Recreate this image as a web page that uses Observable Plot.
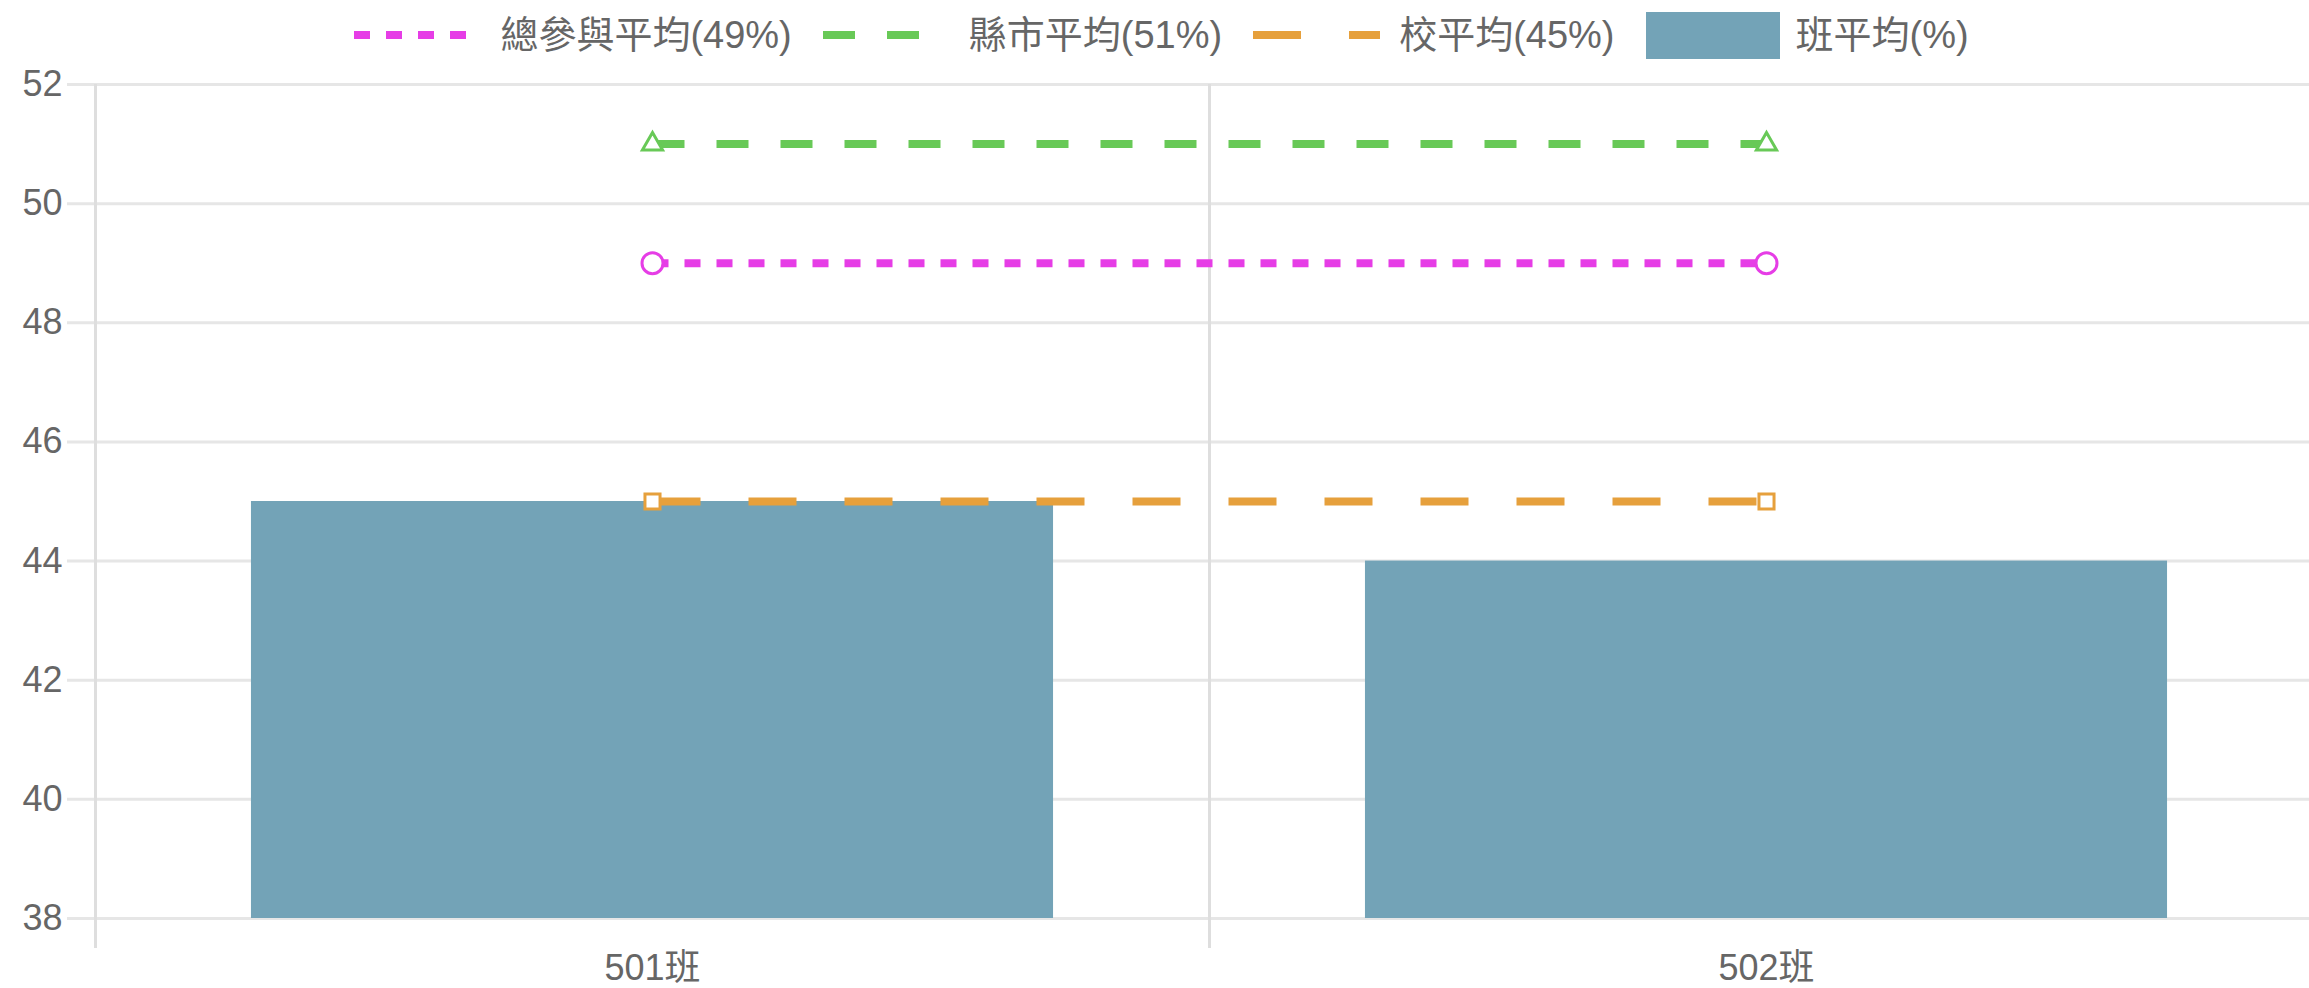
<!DOCTYPE html>
<html>
<head>
<meta charset="utf-8">
<script src="https://cdn.jsdelivr.net/npm/d3@7"></script>
<script src="https://cdn.jsdelivr.net/npm/@observablehq/plot@0.6"></script>
<style>
  html, body { margin: 0; padding: 0; background: #fff; overflow: hidden; }
  #wrap { width: 2323px; font-family: "Liberation Sans", "Noto Sans CJK TC", sans-serif; color: #666; }
  #legend { height: 70px; display: flex; justify-content: center; align-items: center; font-size: 38px; box-sizing: border-box; }
  .item { display: flex; align-items: center; margin-right: 31px; }
  .item:last-child { margin-right: 0; }
  .item svg { display: block; margin-right: 19px; }
  .item span { line-height: 1; white-space: nowrap; }
</style>
</head>
<body>
<div id="wrap">
  <div id="legend"></div>
  <div id="chart"></div>
</div>
<script>
// ---- data ----
const categories = ["501班", "502班"];
const classAvg = [45, 44];          // 班平均(%)
const overallAvg = [49, 49];        // 總參與平均(49%)
const countyAvg = [51, 51];         // 縣市平均(51%)
const schoolAvg = [45, 45];         // 校平均(45%)
const yTicks = [38, 40, 42, 44, 46, 48, 50, 52];
const seriesLabels = ["總參與平均(49%)", "縣市平均(51%)", "校平均(45%)", "班平均(%)"];

// ---- styles ----
const colors = { overall: "#e63de6", county: "#68c957", school: "#e6a03c", cls: "#73a3b7" };
const font = '"Liberation Sans", "Noto Sans CJK TC", sans-serif';
const W = 2323, H = 918, mL = 95, mR = 0, mT = 14, mB = 70;
const step = (W - mL - mR) / categories.length;
const barInset = step * (1 - 0.8 * 0.9) / 2;
const gridColor = "#e6e6e6";
const lineW = 8;

const bars = categories.map((c, i) => ({ cat: c, value: classAvg[i] }));
const mk = (arr) => categories.map((c, i) => ({ cat: c, value: arr[i] }));
const lines = [
  { data: mk(countyAvg), color: colors.county, dash: "32,32", symbol: "triangle", r: 7.5 },
  { data: mk(overallAvg), color: colors.overall, dash: "16,16", symbol: "circle", r: 10.5 },
  { data: mk(schoolAvg), color: colors.school, dash: "48,48", symbol: "square", r: 8.5 }
];

// ---- legend ----
const legend = document.getElementById("legend");
const legendDefs = [
  { label: seriesLabels[0], color: colors.overall, dash: "16,16", type: "line" },
  { label: seriesLabels[1], color: colors.county, dash: "32,32", type: "line" },
  { label: seriesLabels[2], color: colors.school, dash: "48,48", type: "line" },
  { label: seriesLabels[3], color: colors.cls, type: "box" }
];
for (const d of legendDefs) {
  const item = document.createElement("div");
  item.className = "item";
  let sample;
  if (d.type === "line") {
    sample = `<svg width="127" height="12"><line x1="0" x2="127" y1="6" y2="6" stroke="${d.color}" stroke-width="${lineW}" stroke-dasharray="${d.dash}"/></svg>`;
  } else {
    sample = `<svg width="134" height="47" style="margin-right:16px"><rect x="0" y="0" width="134" height="47" fill="${d.color}"/></svg>`;
  }
  item.innerHTML = sample + `<span>${d.label}</span>`;
  legend.appendChild(item);
}

// ---- chart ----
const marks = [
  Plot.ruleY(yTicks, { y: d => d, stroke: gridColor, strokeWidth: 3, insetLeft: -28 }),
  Plot.ruleX(categories, { x: d => d, dx: -step / 2, stroke: "#dedede", strokeWidth: 3, insetBottom: -30 }),
  Plot.ruleX([categories[categories.length - 1]], { x: d => d, dx: step / 2, stroke: "#dedede", strokeWidth: 3, insetBottom: -30 }),
  Plot.barY(bars, { x: "cat", y1: yTicks[0], y2: "value", fill: colors.cls, insetLeft: barInset, insetRight: barInset })
];
for (const l of lines) {
  marks.push(Plot.lineY(l.data, { x: "cat", y: "value", stroke: l.color, strokeWidth: lineW, strokeDasharray: l.dash, strokeLinecap: "butt" }));
}
for (const l of lines) {
  marks.push(Plot.dot(l.data, { x: "cat", y: "value", symbol: l.symbol, r: l.r, stroke: l.color, fill: "white", strokeWidth: 3 }));
}
marks.push(
  Plot.axisY(yTicks, { tickSize: 0, tickPadding: 33, tickFormat: d => String(d), fontSize: 36, fill: "#666", label: null }),
  Plot.axisX({ tickSize: 0, tickPadding: 36, fontSize: 36, fill: "#666", label: null })
);

const chart = Plot.plot({
  width: W, height: H,
  marginLeft: mL, marginRight: mR, marginTop: mT, marginBottom: mB,
  style: { fontFamily: font, fontSize: "36px", color: "#666", background: "white", overflow: "visible" },
  x: { type: "band", domain: categories, padding: 0 },
  y: { domain: [yTicks[0], yTicks[yTicks.length - 1]] },
  marks
});
document.getElementById("chart").appendChild(chart);
</script>
</body>
</html>
